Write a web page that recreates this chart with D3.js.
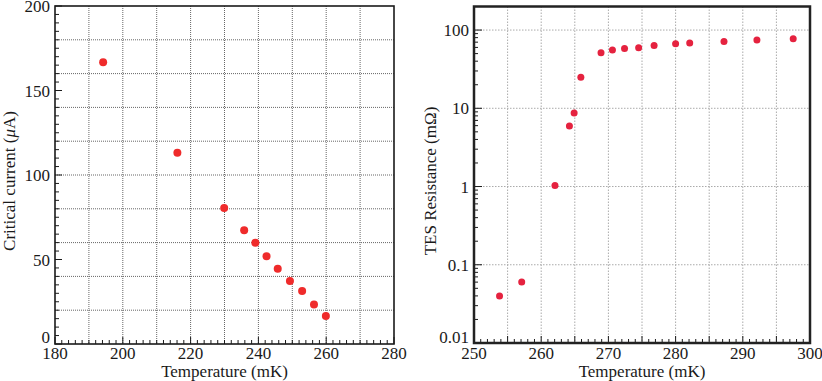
<!DOCTYPE html>
<html lang="en">
<head>
<script src="https://cdnjs.cloudflare.com/ajax/libs/d3/7.8.5/d3.min.js"></script>
<style>
  body { margin: 0; background: #fff; }
</style>
</head>
<body>
<svg id="chart" width="822" height="381" style="font-family: 'Liberation Serif', 'Times New Roman', Times, serif;"></svg>
<script>
// left panel: critical current vs temperature
var icTemp = [194.2, 216.1, 229.9, 235.8, 239.1, 242.4, 245.7, 249.3, 252.9, 256.4, 259.9];
var icCurrent = [166.7, 113.2, 80.5, 67.3, 59.9, 51.9, 44.6, 37.3, 31.4, 23.3, 16.6];
var icXTicks = [180, 200, 220, 240, 260, 280];
var icYTicks = [0, 50, 100, 150, 200];

// right panel: TES resistance vs temperature (log)
var rTemp = [253.8, 257.1, 262.05, 264.2, 264.9, 265.9, 268.9, 270.6, 272.4, 274.5, 276.8, 280.0, 282.1, 287.2, 292.1, 297.5];
var rRes = [0.040, 0.060, 1.03, 5.93, 8.7, 25, 51.2, 55.4, 58.3, 59.3, 63.7, 66.7, 68.1, 71.6, 74.5, 77.3];
var rXTicks = [250, 260, 270, 280, 290, 300];
var rYTicks = [0.01, 0.1, 1, 10, 100];

var svg = d3.select("#chart");
var ink = "#1a1a1a";

/////////////////////////// LEFT ///////////////////////////
var xL = d3.scaleLinear().domain([180, 280]).range([55, 394]);
var yL = d3.scaleLinear().domain([0, 200]).range([344, 6]);
var gL = svg.append("g");

// dotted grid
gL.append("g").selectAll("line").data(d3.range(190, 280, 10)).join("line")
  .attr("x1", d => xL(d)).attr("x2", d => xL(d)).attr("y1", yL(200)).attr("y2", yL(0))
  .attr("stroke", "#666").attr("stroke-dasharray", "1,1").attr("stroke-width", 1);
gL.append("g").selectAll("line").data(d3.range(20, 200, 20)).join("line")
  .attr("y1", d => yL(d)).attr("y2", d => yL(d)).attr("x1", xL(180)).attr("x2", xL(280))
  .attr("stroke", "#666").attr("stroke-dasharray", "1,1").attr("stroke-width", 1);

// minor ticks
gL.append("g").selectAll("line").data(d3.range(0, 201, 5)).join("line")
  .attr("x1", xL(180)).attr("x2", d => xL(180) + (d % 50 === 0 ? 7 : 4))
  .attr("y1", d => yL(d)).attr("y2", d => yL(d))
  .attr("stroke", ink).attr("stroke-width", 1);
gL.append("g").selectAll("line").data(d3.range(180, 281, 2)).join("line")
  .attr("x1", d => xL(d)).attr("x2", d => xL(d))
  .attr("y1", yL(0)).attr("y2", d => yL(0) - (d % 20 === 0 ? 7 : 4))
  .attr("stroke", ink).attr("stroke-width", 1);

gL.append("rect").attr("x", xL(180)).attr("y", yL(200))
  .attr("width", xL(280) - xL(180)).attr("height", yL(0) - yL(200))
  .attr("fill", "none").attr("stroke", ink).attr("stroke-width", 1.6);

gL.append("g").selectAll("text").data(icYTicks).join("text")
  .attr("x", xL(180) - 5).attr("y", d => d === 0 ? yL(d) - 1 : yL(d) + 6)
  .attr("text-anchor", "end").attr("font-size", 17).attr("fill", ink).text(d => d);
gL.append("g").selectAll("text").data(icXTicks).join("text")
  .attr("x", d => xL(d)).attr("y", 359)
  .attr("text-anchor", "middle").attr("font-size", 17).attr("fill", ink).text(d => d);

gL.append("text").attr("x", xL(230)).attr("y", 377)
  .attr("text-anchor", "middle").attr("font-size", 17).attr("fill", ink).text("Temperature (mK)");
gL.append("text").attr("transform", "translate(15,181) rotate(-90)")
  .attr("text-anchor", "middle").attr("font-size", 17).attr("fill", ink)
  .html('Critical current (<tspan font-style="italic">μ</tspan>A)');

gL.append("g").selectAll("circle").data(d3.zip(icTemp, icCurrent)).join("circle")
  .attr("cx", d => xL(d[0])).attr("cy", d => yL(d[1])).attr("r", 4)
  .attr("fill", "#ef2b2b");

/////////////////////////// RIGHT ///////////////////////////
var xR = d3.scaleLinear().domain([250, 300]).range([474, 810]);
var yR = d3.scaleLog().domain([0.01, 200]).range([343, 6.5]);
var gR = svg.append("g");

gR.append("g").selectAll("line").data(d3.range(255, 300, 5)).join("line")
  .attr("x1", d => xR(d)).attr("x2", d => xR(d)).attr("y1", yR(200)).attr("y2", yR(0.01))
  .attr("stroke", "#aaa").attr("stroke-dasharray", "1.5,1.5").attr("stroke-width", 1);
gR.append("g").selectAll("line").data(rYTicks.slice(1)).join("line")
  .attr("y1", d => yR(d)).attr("y2", d => yR(d)).attr("x1", xR(250)).attr("x2", xR(300))
  .attr("stroke", "#aaa").attr("stroke-dasharray", "1.5,1.5").attr("stroke-width", 1);

var logMinor = yR.ticks().filter(d => d <= 200);
gR.append("g").selectAll("line").data(logMinor).join("line")
  .attr("x1", xR(250))
  .attr("x2", d => xR(250) + (rYTicks.includes(+d.toPrecision(3)) ? 8 : 4))
  .attr("y1", d => yR(d)).attr("y2", d => yR(d))
  .attr("stroke", ink).attr("stroke-width", 1);
gR.append("g").selectAll("line").data(d3.range(250, 301, 1)).join("line")
  .attr("x1", d => xR(d)).attr("x2", d => xR(d))
  .attr("y1", yR(0.01)).attr("y2", d => yR(0.01) - (d % 5 === 0 ? 7 : 4))
  .attr("stroke", ink).attr("stroke-width", 1);

gR.append("rect").attr("x", xR(250)).attr("y", yR(200))
  .attr("width", xR(300) - xR(250)).attr("height", yR(0.01) - yR(200))
  .attr("fill", "none").attr("stroke", "#222").attr("stroke-width", 2.5);

gR.append("g").selectAll("text").data(rYTicks).join("text")
  .attr("x", xR(250) - 5).attr("y", d => d === 0.01 ? yR(d) : yR(d) + 6)
  .attr("text-anchor", "end").attr("font-size", 17).attr("fill", ink).text(d => d);
gR.append("g").selectAll("text").data(rXTicks).join("text")
  .attr("x", d => xR(d)).attr("y", 359)
  .attr("text-anchor", "middle").attr("font-size", 17).attr("fill", ink).text(d => d);

gR.append("text").attr("x", xR(275)).attr("y", 377)
  .attr("text-anchor", "middle").attr("font-size", 17).attr("fill", ink).text("Temperature (mK)");
gR.append("text").attr("transform", "translate(436,181) rotate(-90)")
  .attr("text-anchor", "middle").attr("font-size", 17).attr("fill", ink).text("TES Resistance (mΩ)");

gR.append("g").selectAll("circle").data(d3.zip(rTemp, rRes)).join("circle")
  .attr("cx", d => xR(d[0])).attr("cy", d => yR(d[1])).attr("r", 3.5)
  .attr("fill", "#e5223f");
</script>
</body>
</html>
